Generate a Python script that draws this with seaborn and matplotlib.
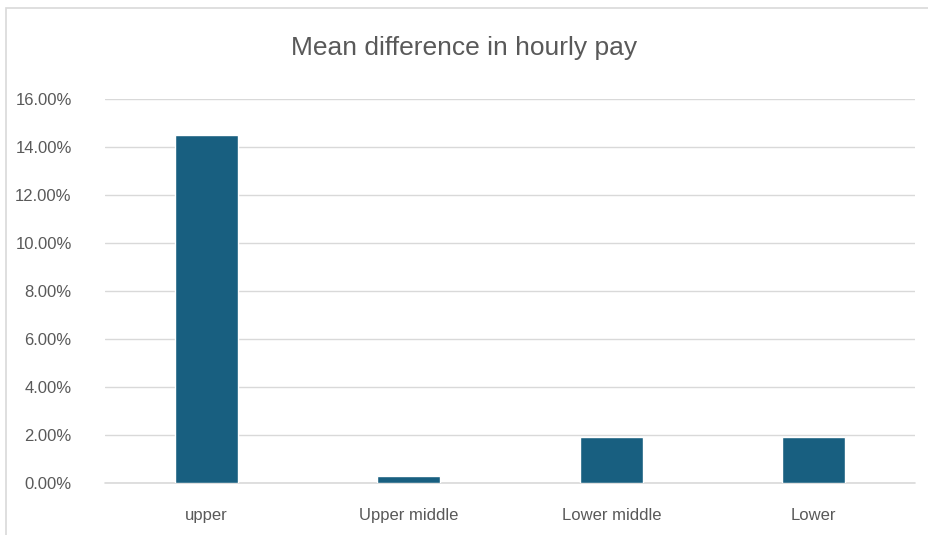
import pandas as pd
import numpy as np
import matplotlib.pyplot as plt
import seaborn as sns
from matplotlib.ticker import PercentFormatter
from matplotlib.patches import Rectangle

# Данные
categories = ['upper', 'Upper middle', 'Lower middle', 'Lower']
mean_diff = [14.5, 0.3, 1.9, 1.9]

df = pd.DataFrame({'Quartile': categories, 'Mean difference': mean_diff})

sns.set_theme(style='white')
plt.rcParams['font.family'] = ['Liberation Sans Narrow', 'Liberation Sans', 'DejaVu Sans']

fig = plt.figure(figsize=(9.29, 5.35), dpi=100)
ax = fig.add_axes([0.113, 0.097, 0.872, 0.718])

sns.barplot(data=df, x='Quartile', y='Mean difference', color='#185f80',
            saturation=1, width=0.31, ax=ax, zorder=3)

ax.set_ylim(0, 16)
ax.set_yticks(np.arange(0, 17, 2))
ax.yaxis.set_major_formatter(PercentFormatter(decimals=2))
ax.grid(axis='y', color='#d9d9d9', linewidth=1, zorder=0)
ax.axhline(0, color='#d9d9d9', linewidth=1.2, clip_on=False, zorder=1)
ax.set_axisbelow(True)
sns.despine(ax=ax, left=True, bottom=True, top=True, right=True)
ax.tick_params(axis='y', length=0, pad=24, labelsize=12, labelcolor='#595959')
ax.tick_params(axis='x', length=0, pad=18, labelsize=12, labelcolor='#595959')
ax.set_xlabel('')
ax.set_ylabel('')
ax.set_xlim(-0.5, 3.5)

fig.text(0.5, 0.91, 'Mean difference in hourly pay', ha='center', va='center',
         fontsize=19, color='#595959')

# рамка диаграммы
fig.patches.append(Rectangle((0.006, -0.02), 1.1, 1.005, transform=fig.transFigure,
                             fill=False, edgecolor='#d9d9d9', linewidth=1.2))

fig.savefig('out.png', dpi=100)
